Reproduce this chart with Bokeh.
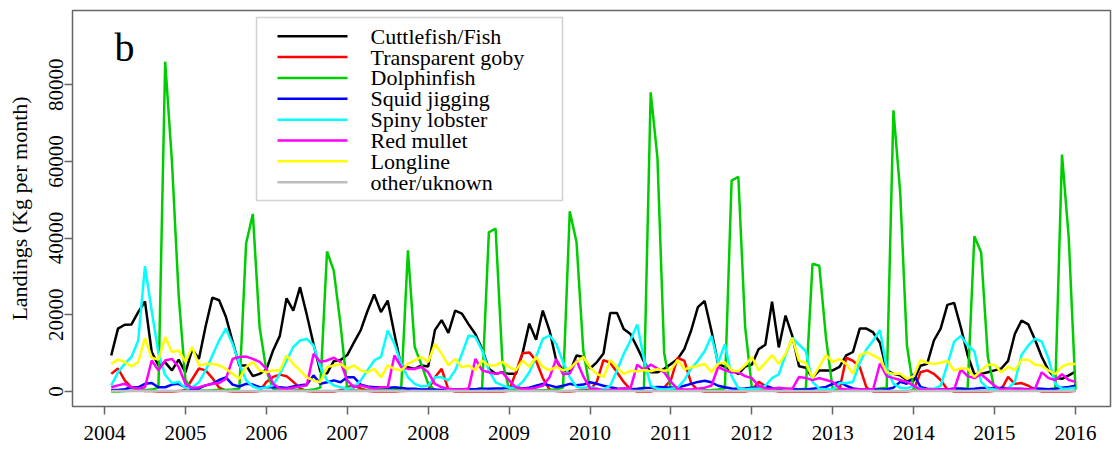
import numpy as np
from bokeh.plotting import figure
from bokeh.models import FixedTicker, Label, BasicTickFormatter, BoxAnnotation, Arrow
from bokeh.embed import file_html
from bokeh.resources import INLINE

# ---------------- data ----------------
years = list(range(2004, 2017))
year_labels = [str(y) for y in years]
y_ticks = [0, 20000, 40000, 60000, 80000]
months = np.arange(1, 145)          # Jan 2004 .. Dec 2015
t = 2004 + months / 12.0

series_names = ["Cuttlefish/Fish", "Transparent goby", "Dolphinfish", "Squid jigging",
                "Spiny lobster", "Red mullet", "Longline", "other/uknown"]

cuttlefish = [
    9400, 16400, 17400, 17500, 20700, 23500, 10300, 6800, 7600, 5500, 8300, 5000,
    11000, 8500, 17000, 24500, 23800, 19500, 13000, 6800, 6800, 4000, 4600, 5700,
    10700, 14500, 24300, 21100, 27200, 20000, 12400, 5200, 4700, 7900, 8200, 9500,
    12800, 16000, 21000, 25300, 20700, 23700, 15000, 6500, 6300, 5900, 6800, 6500,
    16000, 18600, 15300, 21100, 20300, 17500, 15000, 11100, 5900, 4600, 5000, 4600,
    4600, 10000, 17700, 13500, 21100, 15900, 8000, 5500, 5000, 9400, 9000, 6000,
    7600, 9900, 20500, 20500, 16300, 15000, 11500, 7800, 5000, 5000, 5900, 7200,
    8500, 11100, 15900, 22000, 23600, 15900, 7200, 6400, 5500, 4600, 6500, 7000,
    11000, 12200, 23400, 11500, 19800, 14500, 6600, 6200, 3600, 5500, 5500, 5500,
    6400, 9400, 10300, 16400, 16400, 15400, 12700, 5500, 4600, 4200, 3000, 2800,
    6700, 7200, 13300, 16400, 22600, 23100, 16700, 9500, 4500, 4600, 5000, 5500,
    6000, 8000, 15000, 18500, 17500, 13500, 9000, 5500, 3500, 3300, 4200, 5200]

goby = [
    4600, 6000, 2900, 1100, 400, 100, 100, 0, 0, 0, 100, 400,
    3200, 6000, 5500, 3500, 1000, 200, 0, 0, 0, 0, 100, 2500,
    3800, 4400, 4000, 2500, 800, 100, 0, 0, 0, 0, 300, 1200,
    1500, 800, 200, 0, 0, 0, 0, 100, 200, 200, 300, 500,
    3700, 5900, 500, 0, 0, 0, 0, 0, 0, 0, 0, 200,
    5000, 10000, 10200, 8000, 3500, 500, 100, 0, 0, 200, 300, 400,
    2500, 8200, 7500, 5000, 2500, 500, 0, 0, 0, 500, 1000, 3000,
    8800, 8000, 2200, 300, 0, 0, 0, 0, 0, 0, 0, 300,
    2500, 1500, 300, 0, 0, 0, 0, 0, 0, 0, 0, 200,
    500, 8800, 8000, 6400, 1000, 0, 0, 0, 0, 0, 0, 300,
    5000, 5500, 4600, 3000, 500, 0, 0, 0, 0, 0, 0, 200,
    500, 3800, 2000, 2200, 1500, 500, 0, 0, 0, 0, 0, 200]

dolphinfish = [
    0, 0, 100, 200, 300, 300, 500, 1000, 86000, 60000, 25000, 3000,
    500, 300, 250, 300, 400, 400, 500, 800, 38600, 46300, 16800, 5500,
    700, 300, 200, 250, 300, 350, 500, 1000, 36500, 31500, 17500, 800,
    300, 200, 250, 300, 400, 500, 450, 800, 36800, 11600, 7000, 2000,
    300, 200, 200, 350, 300, 400, 500, 1000, 41500, 42500, 8000, 500,
    300, 250, 200, 300, 350, 400, 500, 1000, 47000, 39000, 10700, 500,
    300, 200, 250, 300, 300, 450, 500, 800, 78000, 61000, 10000, 500,
    300, 200, 200, 300, 350, 400, 500, 800, 55000, 56000, 17000, 1000,
    300, 250, 200, 300, 300, 400, 500, 700, 33300, 32800, 14000, 500,
    300, 200, 200, 350, 300, 500, 800, 1000, 73300, 52000, 12000, 500,
    300, 200, 250, 300, 300, 400, 500, 800, 40500, 36300, 9000, 300,
    300, 200, 200, 300, 350, 400, 500, 600, 800, 61800, 40000, 500]

squid = [
    400, 400, 600, 1100, 1100, 2000, 2200, 1100, 1100, 1800, 2000, 1100,
    600, 800, 1600, 2000, 3000, 3700, 1800, 1300, 2000, 1800, 1100, 1100,
    1100, 1100, 900, 1300, 1600, 1800, 4200, 2000, 2400, 2900, 2400, 3700,
    3700, 1800, 1300, 1100, 1100, 900, 1100, 900, 700, 700, 500, 500,
    500, 400, 400, 500, 500, 600, 600, 700, 700, 800, 800, 1000,
    1200, 800, 1000, 1500, 2000, 1600, 1100, 1500, 2000, 1600, 1800, 2400,
    2000, 1500, 1100, 800, 700, 600, 700, 900, 1000, 1200, 1100, 1000,
    1100, 1500, 2000, 2500, 2800, 2400, 1500, 1100, 800, 700, 800, 1000,
    1000, 1500, 900, 800, 700, 600, 500, 500, 700, 900, 1200, 2000,
    2500, 1500, 800, 600, 500, 500, 500, 600, 1000, 2500, 2000, 4500,
    1200, 700, 600, 600, 500, 800, 800, 600, 700, 900, 900, 800,
    1000, 800, 700, 700, 600, 800, 700, 600, 700, 1000, 1200, 1500]

lobster = [
    1600, 5000, 7200, 9000, 13300, 32700, 21000, 10000, 4300, 2200, 2500, 900,
    1100, 2400, 5500, 9400, 13300, 16400, 12400, 7200, 2900, 1300, 700, 1100,
    1600, 4600, 8100, 11600, 13300, 13700, 12000, 6400, 2900, 1600, 1100, 700,
    1100, 2900, 5500, 8100, 9000, 15900, 12400, 7200, 3700, 2000, 1300, 1500,
    3700, 3700, 2900, 5500, 9800, 14600, 14200, 10700, 5500, 2400, 1600, 1000,
    1000, 2500, 5000, 9000, 13700, 14600, 12400, 7700, 3700, 1200, 900, 1200,
    700, 600, 1500, 5500, 9800, 13300, 17500, 8500, 1500, 700, 500, 700,
    1000, 3000, 6000, 8000, 10500, 14500, 7500, 12300, 4000, 800, 500, 700,
    700, 1500, 3500, 4500, 9500, 14000, 12200, 10500, 2500, 700, 600, 500,
    2200, 2200, 2500, 7500, 11000, 13300, 16000, 6000, 2000, 1000, 800, 1500,
    700, 500, 700, 1500, 7000, 13000, 14500, 12000, 10500, 2500, 800, 500,
    500, 800, 2500, 9500, 12000, 13800, 13000, 8500, 2000, 700, 800, 1000]

mullet = [
    1100, 1600, 2000, 1100, 700, 1100, 8100, 5500, 8100, 8500, 6400, 2000,
    900, 1100, 1600, 2000, 2200, 3300, 8500, 9000, 9100, 8500, 7700, 6000,
    2000, 800, 700, 1000, 1300, 1600, 9800, 7700, 8100, 8800, 7700, 2900,
    1100, 1600, 1100, 700, 1100, 1100, 9400, 6400, 5900, 5900, 6400, 5000,
    2000, 1100, 700, 500, 500, 800, 8500, 5500, 5000, 4600, 5000, 2900,
    1100, 700, 700, 1000, 1500, 3700, 8500, 4500, 4700, 8100, 4000, 800,
    700, 300, 300, 500, 800, 800, 7000, 5700, 7000, 6000, 5000, 2500,
    700, 500, 500, 700, 1000, 1500, 6400, 5500, 5000, 5000, 4000, 3500,
    1500, 800, 700, 1000, 700, 700, 3800, 3500, 3000, 3500, 3000, 2500,
    800, 500, 500, 500, 500, 600, 7300, 4000, 3500, 3000, 2500, 1500,
    500, 500, 500, 500, 500, 500, 5800, 4000, 3500, 4500, 3000, 1500,
    500, 800, 500, 600, 500, 700, 5000, 3500, 3000, 4500, 3000, 2500]

longline = [
    7200, 8300, 7700, 6500, 7700, 13900, 8800, 8300, 14200, 10300, 10700, 7700,
    11600, 6800, 7200, 7200, 6800, 5900, 4600, 3300, 6400, 7700, 5500, 5000,
    5500, 5500, 9400, 7200, 5500, 3700, 2900, 2400, 6400, 6800, 7200, 5900,
    6800, 5500, 5000, 5900, 3700, 6800, 5900, 5500, 7200, 8100, 9000, 7700,
    12400, 9800, 6800, 8500, 6400, 6800, 5500, 8100, 6800, 6800, 7700, 6400,
    5500, 8100, 6400, 9000, 6400, 5500, 6400, 5500, 6000, 7700, 9000, 6300,
    4600, 3800, 8200, 6300, 4600, 5400, 5200, 5600, 5300, 5800, 5400, 5700,
    8200, 5800, 6300, 6700, 7200, 5000, 7200, 7600, 5500, 5300, 6800, 9000,
    5500, 7500, 9500, 7200, 9800, 14000, 8000, 7500, 3500, 6500, 9500, 7700,
    8500, 7200, 4600, 9400, 10300, 9400, 8500, 5000, 4600, 4600, 3300, 4000,
    8200, 7500, 7200, 7500, 8000, 5500, 6000, 6000, 3800, 5500, 7000, 7000,
    5000, 6500, 5500, 8300, 8300, 7000, 6800, 5500, 4500, 6500, 7200, 7200]

other = [
    100, 150, 100, 200, 150, 100, 100, 150, 200, 150, 100, 150,
    100, 150, 200, 150, 100, 150, 200, 150, 150, 100, 150, 200,
    150, 200, 150, 100, 150, 150, 100, 150, 200, 150, 100, 150,
    200, 150, 100, 150, 150, 200, 150, 100, 150, 200, 150, 150,
    100, 150, 200, 150, 100, 150, 150, 200, 150, 100, 150, 200,
    150, 100, 150, 200, 150, 150, 100, 150, 200, 150, 100, 150,
    150, 200, 150, 100, 150, 200, 150, 150, 100, 150, 200, 150,
    100, 150, 150, 200, 150, 100, 150, 200, 150, 100, 150, 150,
    200, 150, 100, 150, 200, 150, 150, 100, 150, 200, 150, 100,
    150, 150, 200, 150, 100, 150, 200, 150, 100, 150, 150, 200,
    150, 100, 150, 200, 150, 150, 100, 150, 200, 150, 100, 150,
    150, 200, 150, 100, 150, 200, 150, 150, 100, 150, 200, 150]

series_values = [cuttlefish, goby, dolphinfish, squid, lobster, mullet, longline, other]
colors = ["#000000", "#FF0000", "#00CD00", "#0000FF", "#00FFFF", "#FF00FF", "#FFFF00", "#BEBEBE"]

# ---------------- figure ----------------
FONT = "Liberation Serif"
FRAME = "#666666"
FRAME_LEFT, FRAME_BOTTOM = 72, 406      # page pixels of the plot frame

p = figure(width=1113, height=452,
           x_range=(2003.6045, 2016.4325), y_range=(-3911, 99350),
           output_backend="svg", toolbar_location=None,
           min_border_left=FRAME_LEFT, min_border_right=3,
           min_border_top=10, min_border_bottom=452 - FRAME_BOTTOM)
p.background_fill_color = "white"
p.border_fill_color = "white"
p.xgrid.grid_line_color = None
p.ygrid.grid_line_color = None
p.outline_line_color = FRAME
p.outline_line_width = 1.5

for vals, col in zip(series_values, colors):
    p.line(t, vals, line_color=col, line_width=2.5)

# x axis
p.xaxis.ticker = FixedTicker(ticks=years)
p.xaxis.major_label_overrides = {y: s for y, s in zip(years, year_labels)}
p.xaxis.axis_label = None
p.xaxis.axis_line_color = None
p.xaxis.major_tick_line_color = FRAME
p.xaxis.major_tick_line_width = 1.5
p.xaxis.major_tick_in = 0
p.xaxis.major_tick_out = 8
p.xaxis.minor_tick_line_color = None
p.xaxis.major_label_text_font = FONT
p.xaxis.major_label_text_font_size = "21px"
p.xaxis.major_label_text_color = "black"
p.xaxis.major_label_standoff = 11

# y axis
p.yaxis.ticker = FixedTicker(ticks=y_ticks)
p.yaxis.formatter = BasicTickFormatter(use_scientific=False)
p.yaxis.axis_line_color = None
p.yaxis.major_tick_line_color = FRAME
p.yaxis.major_tick_line_width = 1.5
p.yaxis.major_tick_in = 0
p.yaxis.major_tick_out = 8
p.yaxis.minor_tick_line_color = None
p.yaxis.major_label_orientation = "vertical"
p.yaxis.major_label_text_font = FONT
p.yaxis.major_label_text_font_size = "21px"
p.yaxis.major_label_text_color = "black"
p.yaxis.major_label_standoff = 1
p.yaxis.axis_label = "Landings (Kg per month)"
p.yaxis.axis_label_text_font = FONT
p.yaxis.axis_label_text_font_size = "22px"
p.yaxis.axis_label_text_font_style = "normal"
p.yaxis.axis_label_text_color = "black"
p.yaxis.axis_label_standoff = 15

# legend (box, line samples and labels placed in screen pixels)
leg_left, leg_right, leg_top, leg_bottom = 256, 562, 17, 200
row_first, row_step = 35.7, 20.86
sample_x0, sample_x1, text_x = 277, 347, 370

p.add_layout(BoxAnnotation(left=leg_left - FRAME_LEFT, right=leg_right - FRAME_LEFT,
                           top=FRAME_BOTTOM - leg_top, bottom=FRAME_BOTTOM - leg_bottom,
                           left_units="screen", right_units="screen",
                           top_units="screen", bottom_units="screen",
                           fill_color="white", fill_alpha=1.0,
                           line_color=FRAME, line_width=1.5))
for i, (name, col) in enumerate(zip(series_names, colors)):
    ys = FRAME_BOTTOM - (row_first + i * row_step)
    p.add_layout(Arrow(x_start=sample_x0 - FRAME_LEFT, x_end=sample_x1 - FRAME_LEFT,
                       y_start=ys, y_end=ys, start_units="screen", end_units="screen",
                       start=None, end=None, line_color=col, line_width=2.5))
    p.add_layout(Label(x=text_x - FRAME_LEFT, y=ys, x_units="screen", y_units="screen",
                       text=name, text_font=FONT, text_font_size="22px",
                       text_color="black", text_baseline="middle", text_align="left"))

# panel letter
p.add_layout(Label(x=42, y=359, x_units="screen", y_units="screen", text="b",
                   text_font=FONT, text_font_size="40px", text_color="black",
                   text_baseline="middle"))

open("out.html", "w").write(file_html(p, INLINE))
